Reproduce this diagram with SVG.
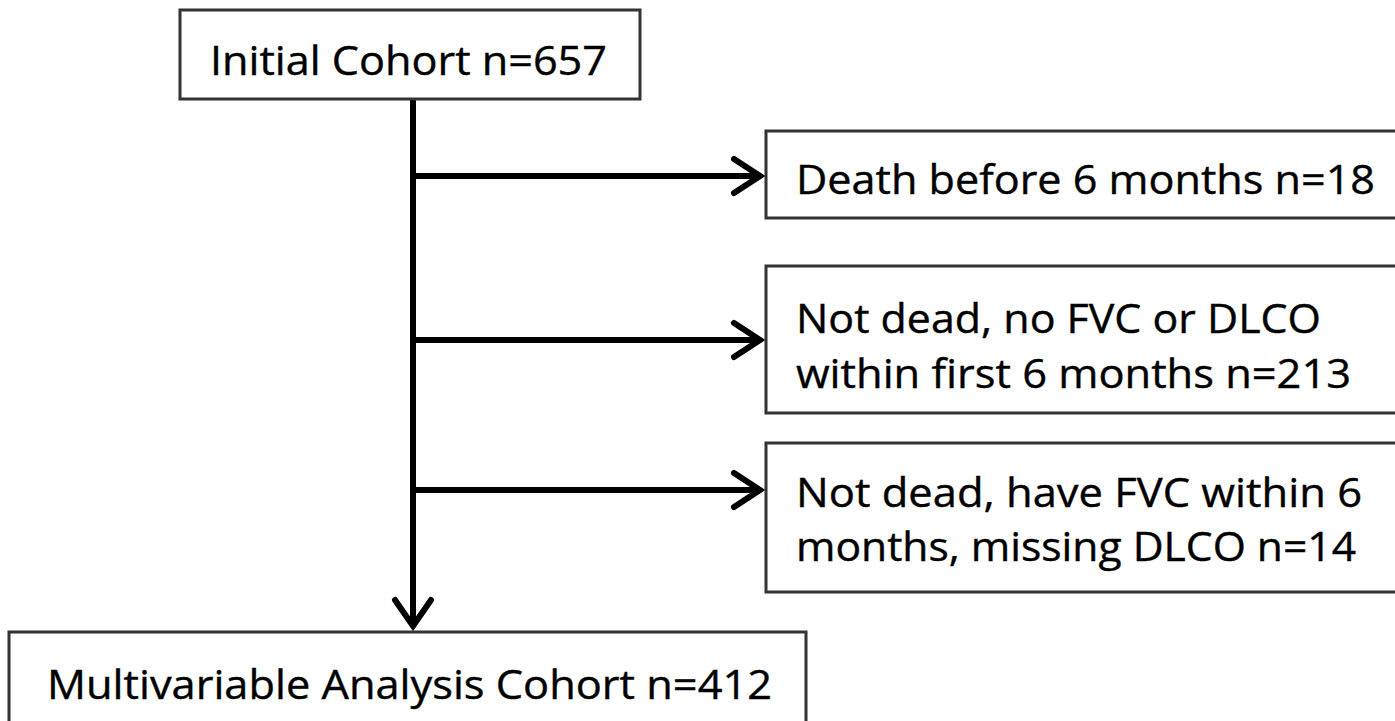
<svg xmlns="http://www.w3.org/2000/svg" width="1395" height="721" viewBox="0 0 1395 721">
<style>
.box{fill:#fff;stroke:#333;stroke-width:3}
.t{font-family:"Open Sans","Liberation Sans",sans-serif;font-size:41px;fill:#000;stroke:#000;stroke-width:0.4}
.ln{stroke:#000;stroke-width:6;fill:none}
.hd{stroke:#000;stroke-width:6;fill:none;stroke-linecap:round}
</style>
<g id="connectors">
<line class="ln" x1="413" y1="99" x2="413" y2="624"/>
<path d="M395,600 L413,626 L431,600" class="hd"/>
<line class="ln" x1="413" y1="176" x2="760" y2="176"/>
<path d="M734,159 L760,176 L734,193" class="hd"/>
<line class="ln" x1="413" y1="340" x2="760" y2="340"/>
<path d="M734,323 L760,340 L734,357" class="hd"/>
<line class="ln" x1="413" y1="490" x2="760" y2="490"/>
<path d="M734,473 L760,490 L734,507" class="hd"/>
</g>
<g id="initial">
<rect class="box" x="180" y="10" width="460" height="89"/>
<text class="t" x="210" y="75" textLength="397" lengthAdjust="spacingAndGlyphs">Initial Cohort n=657</text>
</g>
<g id="death">
<rect class="box" x="766" y="131" width="640" height="87"/>
<text class="t" x="796" y="194" textLength="579" lengthAdjust="spacingAndGlyphs">Death before 6 months n=18</text>
</g>
<g id="nofvc">
<rect class="box" x="766" y="266" width="640" height="147"/>
<text class="t" x="796" y="333" textLength="525" lengthAdjust="spacingAndGlyphs">Not dead, no FVC or DLCO</text>
<text class="t" x="796" y="388" textLength="555" lengthAdjust="spacingAndGlyphs">within first 6 months n=213</text>
</g>
<g id="missing">
<rect class="box" x="766" y="443" width="640" height="149"/>
<text class="t" x="796" y="507" textLength="566" lengthAdjust="spacingAndGlyphs">Not dead, have FVC within 6</text>
<text class="t" x="796" y="561" textLength="560" lengthAdjust="spacingAndGlyphs">months, missing DLCO n=14</text>
</g>
<g id="final">
<rect class="box" x="9" y="632" width="797" height="100"/>
<text class="t" x="47" y="699" textLength="725" lengthAdjust="spacingAndGlyphs">Multivariable Analysis Cohort n=412</text>
</g>
</svg>
